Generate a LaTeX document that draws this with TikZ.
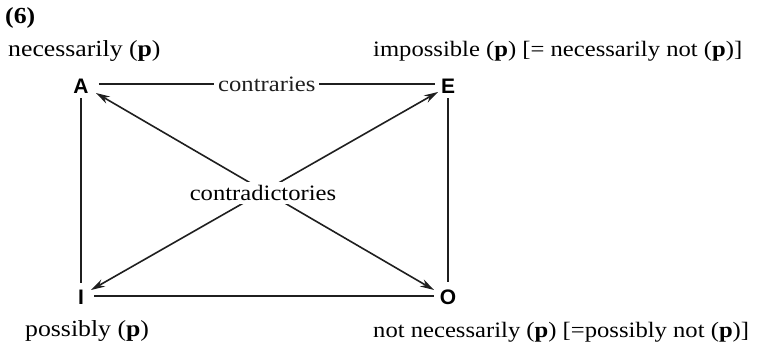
\documentclass[tikz,border=0pt]{standalone}
\usepackage{fontspec}
\setmainfont[FakeStretch=1.12]{Liberation Serif}
\newfontfamily\corner{Liberation Sans}
\usetikzlibrary{arrows.meta}
\begin{document}
\begin{tikzpicture}[x=1pt,y=-1pt,
  lbl/.style={font=\fontsize{23}{25}\selectfont, inner sep=0pt, anchor=base west},
  rlbl/.style={lbl, font=\fontsize{22}{24}\selectfont},
  vtx/.style={font=\corner\bfseries\fontsize{21}{22}\selectfont, inner sep=0pt},
  ln/.style={line width=1.6pt, black!88},
  arr/.style={ln, {Stealth[length=14pt,width=8pt]}-{Stealth[length=14pt,width=8pt]}},
  mid/.style={font=\fontsize{22}{24}\selectfont, fill=white, inner sep=3pt}]
\useasboundingbox (0,0) rectangle (761,350);
\node[lbl, font=\bfseries\fontsize{23}{25}\selectfont] (six) at (5,24) {(6)};
\node[lbl] (la) at (8,57) {necessarily (\textbf{p})};
\node[rlbl] (le) at (373,57) {impossible (\textbf{p}) [= necessarily not (\textbf{p})]};
\node[lbl] (li) at (25,336) {possibly (\textbf{p})};
\node[rlbl] (lo) at (373,337) {not necessarily (\textbf{p}) [=possibly not (\textbf{p})]};
\node[vtx] (A) at (81,86) {A};
\node[vtx] (E) at (448,86) {E};
\node[vtx] (I) at (81,297) {I};
\node[vtx] (O) at (448,297) {O};
\coordinate (a1) at (96,93);
\coordinate (o1) at (434,290);
\coordinate (e1) at (438,92);
\coordinate (i1) at (91,290);
\draw[arr] (a1) -- (o1);
\draw[arr] (i1) -- (e1);
\node[mid] (cd) at (263,193) {contradictories};
\draw[ln] ([xshift=10pt]A.east |- 0,84) -- ([xshift=-6pt]E.west |- 0,84) node[midway, mid, inner sep=4pt] (cr) {contraries};
\draw[ln] ([yshift=-5pt]A.south) -- ([yshift=7pt]I.north);
\draw[ln] ([yshift=-5pt]E.south) -- ([yshift=7pt]O.north);
\draw[ln] ([xshift=10pt]I.east |- 0,296) -- ([xshift=-6pt]O.west |- 0,296);
\end{tikzpicture}
\end{document}
